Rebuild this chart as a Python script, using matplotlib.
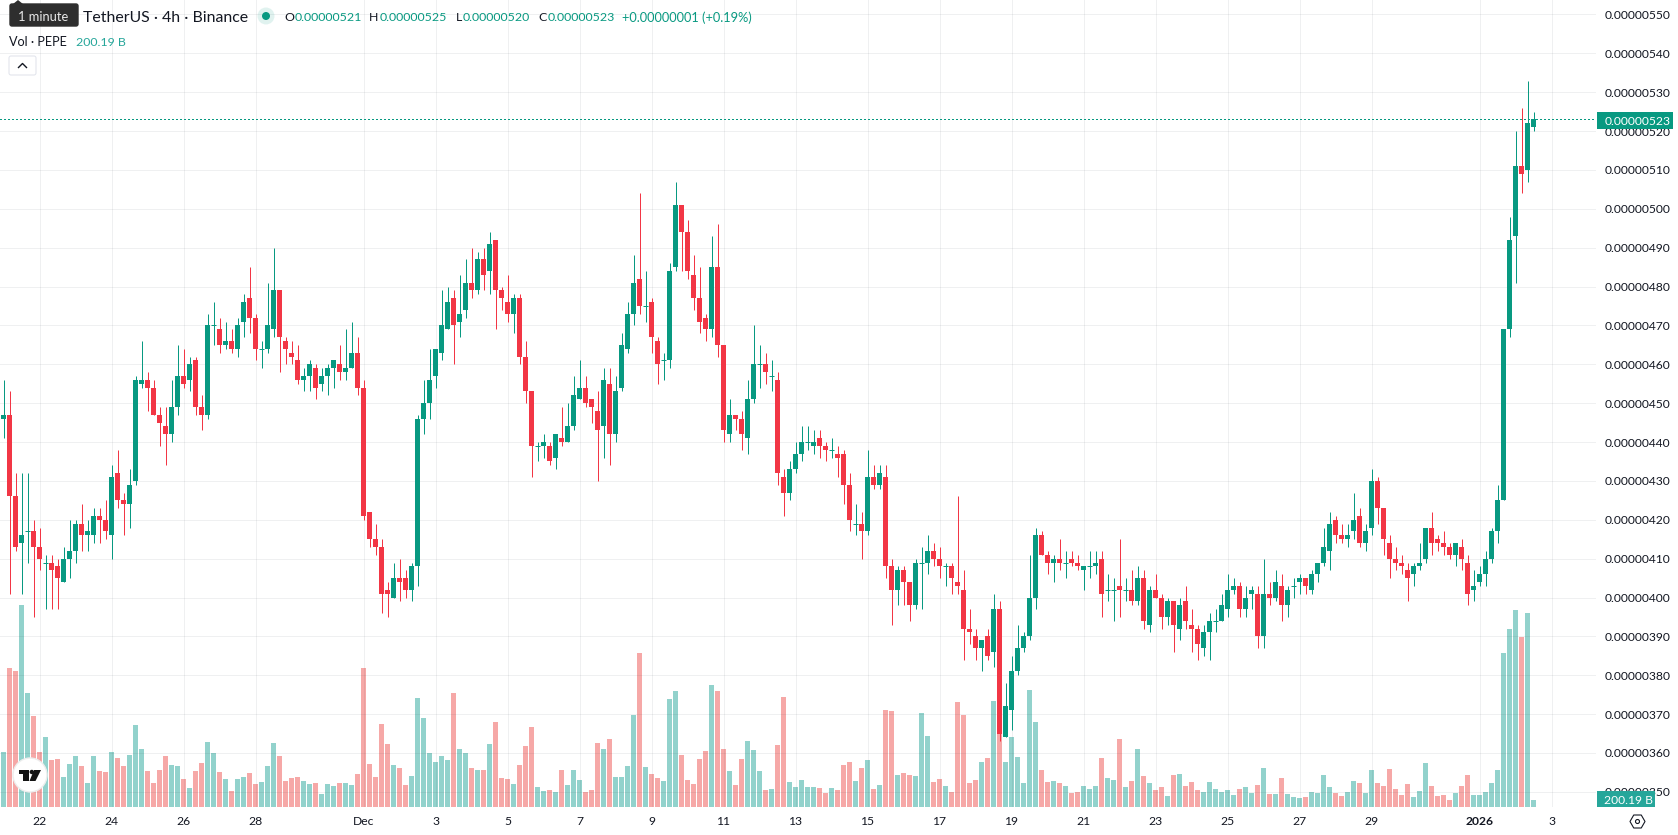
import matplotlib
matplotlib.use('Agg')
import matplotlib.pyplot as plt
from matplotlib.patches import Rectangle, FancyBboxPatch, Circle, Polygon, RegularPolygon
import numpy as np

# PEPE/USDT 4h candles, prices in units of 0.00000001
opens = [
    446, 447, 426, 414, 417, 417, 413, 409, 409, 408,
    404, 410, 412, 419, 416, 416, 421, 420, 416, 432,
    425, 424, 430, 455, 456, 454, 447, 444, 442, 449,
    457, 456, 461, 449, 447, 470, 469, 465, 466, 464,
    471, 477, 472, 464, 464, 469, 479, 466, 463, 461,
    456, 457, 459, 455, 457, 459, 460, 458, 459, 463,
    454, 422, 415, 413, 402, 400, 405, 405, 402, 408,
    446, 450, 457, 463, 469, 477, 471, 474, 481, 479,
    487, 484, 492, 479, 476, 473, 477, 462, 453, 439,
    439, 439, 436, 441, 440, 444, 451, 454, 451, 448,
    444, 455, 442, 454, 464, 473, 482, 475, 476, 466,
    461, 461, 485, 501, 494, 483, 477, 472, 469, 485,
    465, 442, 447, 446, 441, 451, 460, 460, 457, 456,
    431, 427, 433, 437, 440, 439, 441, 439, 438, 437,
    437, 429, 419, 419, 417, 431, 429, 431, 408, 402,
    407, 404, 398, 409, 409, 412, 410, 408, 408, 404,
    402, 392, 390, 387, 390, 386, 397, 364, 371, 381,
    387, 390, 400, 416, 411, 409, 410, 409, 410, 409,
    407, 408, 408, 410, 402, 402, 403, 402, 402, 399,
    405, 393, 402, 400, 395, 399, 392, 399, 393, 392,
    387, 391, 394, 394, 397, 402, 403, 397, 401, 401,
    390, 401, 400, 403, 398, 403, 404, 405, 402, 406,
    409, 412, 420, 416, 415, 417, 421, 414, 418, 430,
    423, 414, 410, 409, 407, 406, 408, 410, 418, 415,
    414, 413, 411, 413, 409, 402, 404, 406, 410, 417,
    425, 469, 493, 511, 510, 521,
]
highs = [
    456, 453, 432, 432, 432, 420, 418, 411, 411, 410,
    413, 420, 420, 424, 420, 423, 423, 425, 434, 438,
    427, 433, 457, 466, 458, 456, 449, 449, 456, 465,
    464, 462, 462, 452, 473, 476, 472, 471, 469, 472,
    478, 485, 473, 466, 481, 490, 479, 467, 466, 465,
    459, 461, 460, 459, 460, 461, 465, 469, 471, 467,
    456, 422, 419, 415, 404, 409, 410, 407, 409, 447,
    456, 464, 464, 479, 480, 479, 483, 487, 490, 489,
    490, 494, 492, 480, 483, 478, 478, 466, 453, 440,
    442, 440, 442, 449, 450, 457, 461, 457, 451, 453,
    459, 459, 457, 468, 476, 488, 504, 484, 477, 467,
    463, 486, 507, 501, 497, 488, 485, 473, 493, 496,
    465, 451, 447, 448, 456, 470, 465, 463, 461, 458,
    433, 435, 440, 444, 444, 443, 443, 440, 441, 439,
    438, 432, 424, 422, 438, 434, 434, 434, 410, 408,
    408, 404, 410, 413, 416, 414, 413, 409, 409, 426,
    407, 397, 392, 389, 392, 401, 399, 378, 385, 393,
    391, 411, 418, 417, 412, 411, 415, 412, 412, 411,
    408, 412, 412, 412, 406, 405, 415, 405, 407, 408,
    407, 403, 406, 401, 400, 399, 400, 403, 397, 393,
    393, 396, 397, 401, 406, 405, 404, 403, 403, 403,
    410, 404, 407, 406, 403, 405, 406, 405, 407, 409,
    418, 422, 421, 419, 419, 427, 423, 419, 433, 431,
    423, 416, 413, 411, 409, 409, 414, 418, 422, 416,
    417, 414, 414, 415, 411, 407, 408, 412, 418, 429,
    469, 498, 520, 526, 533, 525,
]
lows = [
    441, 401, 412, 401, 409, 395, 407, 397, 397, 397,
    404, 405, 409, 412, 412, 414, 414, 415, 410, 423,
    416, 418, 429, 454, 448, 447, 439, 434, 440, 447,
    454, 453, 447, 443, 446, 465, 463, 464, 463, 462,
    467, 468, 461, 459, 463, 467, 458, 460, 460, 455,
    453, 453, 451, 453, 452, 454, 456, 456, 459, 452,
    420, 413, 411, 396, 395, 400, 399, 400, 399, 403,
    442, 446, 454, 461, 469, 460, 467, 472, 477, 478,
    479, 478, 469, 474, 471, 468, 460, 450, 431, 435,
    436, 434, 433, 439, 440, 443, 451, 449, 445, 430,
    436, 434, 440, 453, 463, 470, 473, 471, 463, 455,
    456, 459, 484, 484, 482, 474, 468, 466, 467, 462,
    440, 440, 443, 438, 437, 450, 454, 455, 453, 429,
    421, 425, 432, 435, 438, 437, 436, 435, 436, 431,
    424, 417, 416, 410, 416, 428, 428, 405, 393, 398,
    398, 394, 397, 397, 406, 408, 405, 403, 401, 401,
    384, 388, 384, 381, 384, 382, 363, 364, 366, 380,
    386, 389, 397, 411, 406, 404, 407, 405, 408, 407,
    402, 405, 406, 395, 399, 394, 395, 399, 398, 398,
    392, 391, 400, 392, 393, 386, 389, 392, 386, 384,
    385, 384, 391, 394, 395, 401, 395, 395, 397, 387,
    387, 398, 399, 394, 395, 400, 401, 401, 401, 404,
    408, 407, 414, 414, 413, 415, 413, 412, 416, 419,
    411, 405, 407, 406, 399, 403, 407, 409, 411, 412,
    411, 410, 408, 407, 398, 399, 403, 403, 409, 414,
    425, 467, 481, 504, 507, 520,
]
closes = [
    447, 426, 413, 416, 417, 413, 410, 409, 407, 405,
    410, 412, 419, 416, 417, 421, 420, 417, 431, 425,
    424, 429, 456, 456, 454, 447, 445, 442, 449, 457,
    455, 460, 449, 447, 470, 470, 465, 466, 464, 470,
    476, 472, 464, 464, 470, 479, 467, 464, 462, 456,
    457, 460, 454, 457, 459, 461, 458, 459, 463, 454,
    421, 415, 413, 401, 401, 405, 404, 402, 408, 446,
    450, 456, 464, 470, 476, 470, 473, 481, 479, 487,
    483, 491, 479, 477, 473, 477, 462, 453, 439, 439,
    440, 435, 442, 440, 444, 452, 454, 450, 449, 443,
    456, 442, 453, 465, 473, 481, 475, 475, 467, 460,
    461, 484, 501, 494, 484, 477, 471, 469, 485, 465,
    443, 447, 446, 442, 451, 460, 460, 458, 457, 432,
    427, 433, 437, 440, 440, 440, 439, 438, 438, 436,
    429, 420, 419, 417, 431, 429, 432, 408, 402, 407,
    404, 398, 409, 409, 412, 410, 408, 408, 405, 403,
    392, 391, 387, 389, 385, 397, 365, 372, 381, 387,
    390, 400, 416, 411, 409, 410, 409, 409, 409, 408,
    408, 408, 409, 401, 402, 402, 402, 402, 399, 405,
    394, 402, 400, 395, 399, 393, 398, 394, 392, 388,
    391, 394, 394, 398, 402, 403, 397, 400, 402, 390,
    401, 400, 404, 398, 402, 403, 405, 403, 406, 409,
    413, 419, 416, 415, 416, 420, 414, 417, 430, 423,
    415, 410, 409, 408, 405, 408, 409, 418, 414, 414,
    413, 411, 414, 410, 401, 403, 406, 410, 417, 425,
    469, 492, 511, 509, 522, 523,
]
# volume per candle, in billions
volumes = [
    1573, 3975, 3889, 5777, 3260, 2602, 1573, 2002, 1344, 1373,
    858, 1230, 1459, 1173, 686, 1459, 1030, 1001, 1573, 1401,
    1173, 1487, 2345, 1659, 1030, 686, 1058, 1459, 1201, 1173,
    801, 543, 1030, 1258, 1859, 1544, 1001, 801, 458, 801,
    858, 972, 658, 715, 1173, 1830, 1459, 744, 829, 858,
    744, 658, 686, 372, 658, 601, 686, 686, 629, 944,
    3975, 1230, 858, 2374, 1802, 1201, 1115, 629, 887, 3117,
    2545, 1544, 1287, 1459, 1344, 3260, 1659, 1544, 1115, 1058,
    1058, 1802, 2431, 829, 801, 658, 1201, 1745, 2288, 572,
    458, 486, 429, 1058, 629, 1058, 772, 429, 486, 1830,
    1659, 1945, 858, 858, 1173, 2631, 4404, 1144, 944, 829,
    744, 3089, 3317, 1487, 772, 658, 1373, 1602, 3489, 3317,
    1659, 1030, 629, 1373, 1888, 1630, 1030, 486, 515, 1773,
    3146, 715, 572, 772, 572, 572, 543, 400, 543, 486,
    1201, 1287, 744, 1115, 1344, 515, 629, 2774, 2746, 915,
    972, 915, 887, 2688, 2031, 715, 801, 601, 429, 3003,
    2631, 686, 772, 1287, 1401, 3032, 2297, 1287, 2002, 1430,
    686, 3346, 2431, 1058, 715, 744, 686, 601, 400, 429,
    601, 515, 601, 1401, 829, 772, 1945, 572, 744, 1659,
    887, 686, 486, 572, 315, 915, 944, 601, 715, 486,
    429, 715, 515, 429, 486, 343, 515, 572, 400, 629,
    1115, 372, 372, 829, 372, 286, 257, 286, 429, 400,
    915, 572, 400, 315, 429, 744, 686, 400, 1058, 686,
    601, 1087, 515, 343, 658, 286, 458, 1258, 601, 315,
    343, 200, 400, 601, 915, 343, 343, 429, 686, 1058,
    4404, 5091, 5634, 4862, 5548, 200.19,
]
# date labels sit on candle numbers, six candles to a day
tick_pos = [6, 18, 30, 42, 60, 72, 84, 96, 108, 120, 132, 144, 156, 168, 180,
            192, 204, 216, 228, 246, 258]
tick_labels = ['22', '24', '26', '28', 'Dec', '3', '5', '7', '9', '11', '13', '15',
               '17', '19', '21', '23', '25', '27', '29', '2026', '3']
price_ticks = list(range(350, 551, 10))

UP = '#089981'
DOWN = '#F23645'
VOL_UP = '#26A69A'
VOL_DOWN = '#EF5350'
TEXT = '#131722'

plt.rcParams['font.family'] = ['Lato', 'DejaVu Sans']

W, H = 1678, 835
PANE_W, PANE_H = 1596, 807
PX = 0.72  # one pixel in points at dpi 100

o = np.array(opens) * 1e-8
h = np.array(highs) * 1e-8
l = np.array(lows) * 1e-8
c = np.array(closes) * 1e-8
x = np.arange(len(opens))
up = c >= o
body_w = 5 / 6

fig = plt.figure(figsize=(W / 100, H / 100), dpi=100, facecolor='white')
rect = [0, (H - PANE_H) / H, PANE_W / W, PANE_H / H]

# volume sits behind the price candles
vol_ax = fig.add_axes(rect, zorder=1)
vol_ax.bar(x, volumes, width=body_w, linewidth=0, alpha=0.5,
           color=np.where(up, VOL_UP, VOL_DOWN))
vol_ax.set_ylim(0, PANE_H * 200.19 / 7)
vol_ax.xaxis.set_visible(False)
vol_ax.yaxis.set_visible(False)

ax = fig.add_axes(rect, zorder=2, facecolor='none')
ax.vlines(x, l, h, colors=np.where(up, UP, DOWN), linewidth=PX)
ax.bar(x, c - o, bottom=o, width=body_w, linewidth=0, color=np.where(up, UP, DOWN))
flat = o == c
ax.hlines(o[flat], x[flat] - body_w / 2, x[flat] + body_w / 2, colors=UP, linewidth=PX)
ax.axhline(c[-1], color=UP, linewidth=PX, linestyle=(0, (1 / PX, 2 / PX)),
           antialiased=False, dash_capstyle='butt')

ax.set_xlim(-3.5 / 6, (PANE_W - 3.5) / 6)
ax.set_ylim((530 - (PANE_H - 92.2) / 3.887) * 1e-8, (530 + 92.2 / 3.887) * 1e-8)
vol_ax.set_xlim(ax.get_xlim())

ax.set_xticks(tick_pos, tick_labels)
ax.set_yticks([p * 1e-8 for p in price_ticks], [f'{p * 1e-8:.8f}' for p in price_ticks])
ax.yaxis.tick_right()
ax.tick_params(axis='y', length=0, pad=6.5, labelsize=8.7, labelcolor=TEXT)
ax.tick_params(axis='x', length=0, pad=6.5, labelsize=8.7, labelcolor=TEXT)
ax.get_xticklabels()[tick_labels.index('2026')].set_fontweight('bold')
ax.grid(True, color='#2A2E39', alpha=0.07, linewidth=PX)
ax.set_axisbelow(True)
for a in (ax, vol_ax):
    for s in a.spines.values():
        s.set_visible(False)

# legend, price tags, logo and buttons, laid out in pixels
ui = fig.add_axes([0, 0, 1, 1], zorder=5, facecolor='none')
ui.set_xlim(0, W)
ui.set_ylim(H, 0)
ui.axis('off')

# current price tag
fig.canvas.draw()
last_y = H - ax.transData.transform((0, c[-1]))[1] + 1
ui.add_patch(Rectangle((1597, last_y - 8.5), 76, 17, color=UP, linewidth=0))
ui.text(1605, last_y, f'{c[-1]:.8f}', color='white', fontsize=8.7, va='center_baseline')

# current volume tag
ui.add_patch(Rectangle((1597, 791), 58, 16, color=VOL_UP, linewidth=0))
ui.text(1604, 799, f'{volumes[-1]:.2f} B', color='white', fontsize=8.7, va='center_baseline')

# settings hexagon
ui.add_patch(RegularPolygon((1637.5, 821.5), 6, radius=7.5, orientation=np.pi / 2,
                            fill=False, edgecolor=TEXT, linewidth=0.8))
ui.add_patch(Circle((1637.5, 821.5), 2, fill=False, edgecolor=TEXT, linewidth=0.8))

# hover tooltip
ui.add_patch(FancyBboxPatch((10, 4), 68, 22, boxstyle='round,pad=0,rounding_size=2',
                            facecolor='#2E2E2E', edgecolor='#2E2E2E', linewidth=1))
ui.add_patch(Polygon([(13, 4), (18, 0), (23, 4)], color='#2E2E2E', linewidth=0))
ui.text(43.5, 16, '1 minute', color='#E8E8E8', fontsize=9.3, ha='center', va='center_baseline')

# symbol line
ui.text(83, 16.5, 'TetherUS · 4h · Binance', color=TEXT, fontsize=11.4, va='center_baseline')
ui.add_patch(Circle((266, 16), 8.5, color=UP, alpha=0.12, linewidth=0))
ui.add_patch(Circle((266, 16), 4, color=UP, linewidth=0))
for lx, letter, vx, val in [(284, 'O', 294.5, opens[-1]), (369, 'H', 380, highs[-1]),
                            (456, 'L', 463, lows[-1]), (538, 'C', 547.5, closes[-1])]:
    ui.text(lx, 16.5, letter, color=TEXT, fontsize=8.9, va='center_baseline')
    ui.text(vx, 16.5, f'{val * 1e-8:.8f}', color=UP, fontsize=8.9, va='center_baseline')
ui.text(622, 16.5, f'+{(closes[-1] - opens[-1] - 1) * 1e-8:.8f} (+0.19%)', color=UP,
        fontsize=9.2, va='center_baseline')

# volume line and collapse button
ui.text(9, 41, 'Vol · PEPE', color=TEXT, fontsize=9.1, va='center_baseline')
ui.text(76.5, 41, f'{volumes[-1]:.2f} B', color=VOL_UP, fontsize=8.9, va='center_baseline')
ui.add_patch(FancyBboxPatch((9, 56), 27, 19, boxstyle='round,pad=0,rounding_size=2',
                            facecolor='white', edgecolor='#E0E3EB', linewidth=PX))
ui.plot([18.5, 22.5, 26.5], [67.5, 63.5, 67.5], color=TEXT, linewidth=1)

# TradingView badge
ui.add_patch(Circle((30, 775), 17, facecolor='white', edgecolor='#EDEDED', linewidth=1))
ui.add_patch(Polygon([(19, 770), (29, 770), (29, 781), (23.3, 781), (23.3, 773.5), (19, 773.5)],
                     color='#131313', linewidth=0))
ui.add_patch(Circle((31.8, 772), 2.2, color='#131313', linewidth=0))
ui.add_patch(Polygon([(34, 770), (41, 770), (35.5, 781), (29.5, 781)], color='#131313', linewidth=0))

fig.savefig('out.png', dpi=100)
